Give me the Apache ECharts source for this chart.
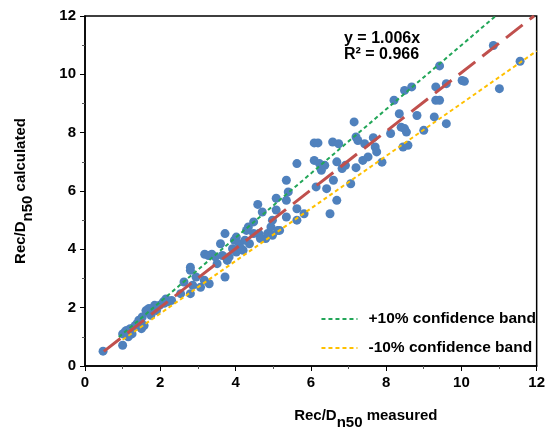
<!DOCTYPE html>
<html>
<head>
<meta charset="utf-8">
<script src="https://cdn.jsdelivr.net/npm/echarts@6/dist/echarts.min.js"></script>
<style>html,body{margin:0;padding:0;background:#fff}#c{width:548px;height:438px}</style>
</head>
<body>
<div id="c"></div>
<script>
// Measured vs calculated Rec/Dn50
var measured = [0.48,1.0,1.0,1.06,1.1,1.2,1.25,1.34,1.38,1.43,1.52,1.5,1.57,1.15,
  1.62,1.7,1.8,1.75,1.9,1.98,2.08,2.15,2.2,1.85,
  2.54,2.63,2.8,2.8,2.8,2.86,2.95,3.07,3.17,3.18,3.28,3.37,3.3,3.46,3.51,3.6,3.65,3.72,3.72,3.83,3.78,3.92,3.97,4.02,4.1,4.2,
  4.29,4.34,4.37,4.48,4.59,4.62,4.71,4.8,4.85,4.94,4.98,4.98,5.08,5.08,5.12,5.17,5.35,5.35,5.35,5.4,5.63,5.63,5.63,5.82,
  6.09,6.19,6.09,6.14,6.23,6.28,6.37,6.42,6.51,6.58,6.6,6.69,6.69,6.74,6.83,6.92,7.06,7.15,7.2,7.2,7.25,7.38,7.43,7.52,7.66,7.71,7.75,7.89,
  8.12,8.21,8.35,8.4,8.45,8.49,8.54,8.58,8.49,8.68,8.82,9.0,9.28,9.32,9.32,9.42,9.42,9.6,9.6,10.02,10.08,10.85,11.01,11.56,
  4.02,4.15,4.25,4.66,4.48,1.3,1.45,1.65,2.3,2.1];
var calculated = [0.51,0.71,1.1,1.17,1.22,1.28,1.1,1.39,1.45,1.57,1.68,1.28,1.39,1.0,
  1.9,1.97,1.97,1.74,1.9,2.08,2.2,2.3,2.2,2.08,
  2.48,2.88,3.39,3.28,2.48,2.77,3.05,2.7,2.94,3.83,3.79,3.83,2.82,3.74,3.51,4.19,3.79,4.54,3.05,3.74,3.62,4.02,4.31,4.42,4.19,3.97,
  4.65,4.77,4.19,4.94,5.54,4.54,5.28,4.37,4.54,4.77,5.0,4.48,5.75,5.35,4.65,4.65,6.37,5.68,5.11,5.97,6.94,5.39,5.0,5.22,
  7.65,7.65,7.05,6.14,6.94,6.71,6.88,6.08,5.22,7.68,6.37,5.68,7.0,7.62,6.77,6.88,6.25,8.37,7.85,6.8,7.73,7.05,7.62,7.17,7.83,7.51,7.34,6.99,
  7.97,9.11,8.65,8.19,7.51,8.14,8.02,7.57,9.45,9.57,8.59,8.08,8.54,9.57,9.11,9.11,10.29,9.68,8.31,9.79,9.76,10.99,9.51,10.45,
  3.91,4.02,4.31,4.37,4.54,1.33,1.5,1.85,2.25,2.15];
var fitX = [0.5, 11.93];
var fitY = [0.5, 12];
var upperX = [0.9, 10.91];
var upperY = [0.99, 12];
var lowerX = [1.0, 12];
var lowerY = [0.9, 10.8];
var axisTicks = [0, 2, 4, 6, 8, 10, 12];
var fitLabel = ['y = 1.006x', 'R\u00b2 = 0.966'];
var legendNames = ['+10% confidence band', '-10% confidence band'];

function pairs(xs, ys){ return xs.map(function(v,i){ return [v, ys[i]]; }); }

var FONT = 'Liberation Sans, Arial, sans-serif';
var chart = echarts.init(document.getElementById('c'), null, {renderer:'canvas'});
var axisCommon = {
  type:'value', min: axisTicks[0], max: axisTicks[axisTicks.length-1], interval: 2,
  axisLine:{show:true, onZero:false, lineStyle:{color:'#000', width:1.5}},
  axisTick:{show:true, inside:false, length:5, lineStyle:{color:'#000', width:1}},
  minorTick:{show:true, splitNumber:2, length:3, lineStyle:{color:'#555', width:1}},
  splitLine:{show:false},
  axisLabel:{color:'#000', fontFamily:FONT, fontWeight:'bold', fontSize:15}
};
var richName = {
  a:{fontFamily:FONT, fontWeight:'bold', fontSize:15, color:'#000', lineHeight:18, verticalAlign:'top'},
  s:{fontFamily:FONT, fontWeight:'bold', fontSize:15, color:'#000', lineHeight:18, padding:[7,0,0,0], verticalAlign:'top'}
};
chart.setOption({
  animation:false,
  backgroundColor:'#fff',
  grid:{left:85, top:16, right:5, bottom:72, show:true, borderColor:'#000', borderWidth:1.5, containLabel:false},
  xAxis: Object.assign({}, axisCommon, {
    axisLabel: Object.assign({}, axisCommon.axisLabel, {margin:9}),
    name:'{a|Rec/D}{s|n50}{a| measured}', nameLocation:'middle', nameGap:42,
    nameTextStyle:{padding:[0,0,0,110], rich:richName}
  }),
  yAxis: Object.assign({}, axisCommon, {
    axisLabel: Object.assign({}, axisCommon.axisLabel, {margin:9}),
    name:'{a|Rec/D}{s|n50}{a| calculated}', nameLocation:'middle', nameGap:54, nameRotate:90,
    nameTextStyle:{rich:richName}
  }),
  legend:{
    orient:'vertical', right:7, bottom:77, itemWidth:36, itemHeight:10, itemGap:13,
    data:legendNames,
    itemStyle:{opacity:0},
    textStyle:{fontFamily:FONT, fontWeight:'bold', fontSize:15.5, color:'#000', padding:[0,0,0,6]}
  },
  graphic:[{
    type:'text', left:344, top:31,
    style:{text: fitLabel.join('\n'), fontFamily:FONT, fontWeight:'bold', fontSize:16, lineHeight:16, fill:'#000'}
  }],
  series:[
    {type:'scatter', name:'data', data: pairs(measured, calculated), symbol:'circle', symbolSize:9,
     itemStyle:{color:'#4f81bd', opacity:1}, z:2},
    {type:'line', name:legendNames[0], data: pairs(upperX, upperY), symbol:'none', z:3,
     itemStyle:{color:'#22a658'},
     lineStyle:{color:'#22a658', width:2, type:[4,3]}},
    {type:'line', name:legendNames[1], data: pairs(lowerX, lowerY), symbol:'none', z:3,
     itemStyle:{color:'#ffc000'},
     lineStyle:{color:'#ffc000', width:2, type:[4,3]}},
    {type:'line', name:'fit', data: pairs(fitX, fitY), symbol:'none', z:4,
     lineStyle:{color:'#c0504d', width:3, type:[21,9]}}
  ]
});
</script>
</body>
</html>
